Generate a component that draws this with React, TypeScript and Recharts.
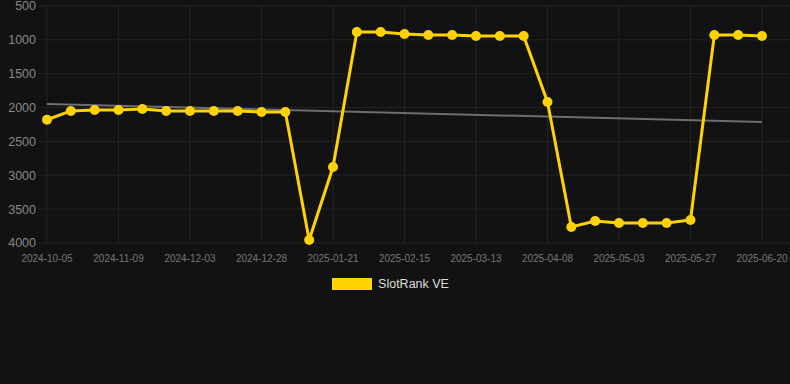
import { LineChart, Line, XAxis, YAxis, CartesianGrid, Legend, ReferenceLine } from 'recharts'

const dates = [
  '2024-10-05', '2024-10-17', '2024-10-28', '2024-11-09', '2024-11-17', '2024-11-25',
  '2024-12-03', '2024-12-11', '2024-12-19', '2024-12-28', '2025-01-05', '2025-01-13',
  '2025-01-21', '2025-01-29', '2025-02-06', '2025-02-15', '2025-02-23', '2025-03-04',
  '2025-03-13', '2025-03-21', '2025-03-30', '2025-04-08', '2025-04-16', '2025-04-24',
  '2025-05-03', '2025-05-11', '2025-05-19', '2025-05-27', '2025-06-04', '2025-06-12',
  '2025-06-20',
]

const rank = [
  2180, 2050, 2036, 2036, 2020, 2050, 2050, 2050, 2050, 2065, 2065,
  3956, 2878, 884, 884, 914, 928, 928, 943, 943, 943,
  1918, 3764, 3676, 3705, 3705, 3705, 3660, 928, 928, 943,
]

const yTicks = [500, 1000, 1500, 2000, 2500, 3000, 3500, 4000]

// trend line end points
const trendStart = 1947
const trendEnd = 2213

const data = dates.map((d, i) => ({ date: d, rank: rank[i] }))
const xTickDates = dates.filter((_, i) => i % 3 === 0)

const renderLegend = () => (
  <div style={{ display: 'flex', justifyContent: 'center', alignItems: 'center', height: 20, paddingRight: 9 }}>
    <span style={{ display: 'inline-block', width: 40, height: 12, background: '#FFD200', marginRight: 6 }} />
    <span style={{ color: '#dddddd', fontSize: 12.5, fontFamily: 'Liberation Sans, Arial, sans-serif' }}>SlotRank VE</span>
  </div>
)

export default function App() {
  return (
    <div style={{ position: 'absolute', left: 0, top: 0, width: 790, height: 384, background: '#121212' }}>
      <LineChart width={790} height={384} data={data} margin={{ top: 6, right: 0, left: 0, bottom: 90 }}
        style={{ fontFamily: 'Liberation Sans, Arial, sans-serif' }}>
        <CartesianGrid stroke="#232323" syncWithTicks />
        <XAxis dataKey="date" ticks={xTickDates} interval={0} tickLine={false} axisLine={false} height={31}
          padding={{ left: 9, right: 28 }} tick={{ fill: '#777', fontSize: 10 }} tickMargin={6} />
        <YAxis reversed domain={[500, 4000]} ticks={yTicks} interval={0} width={38} tickLine={false} axisLine={false}
          tick={{ fill: '#888', fontSize: 12.5 }} tickSize={0} tickMargin={2} />
        <ReferenceLine segment={[{ x: dates[0], y: trendStart }, { x: dates[dates.length - 1], y: trendEnd }]}
          stroke="#6e6e6e" strokeWidth={2} />
        <Line dataKey="rank" name="SlotRank VE" stroke="#FFD200" strokeWidth={3}
          dot={{ r: 5, fill: '#FFD200', stroke: '#FFD200', strokeWidth: 0 }} isAnimationActive={false} />
        <Legend verticalAlign="bottom" content={renderLegend} />
      </LineChart>
    </div>
  )
}
